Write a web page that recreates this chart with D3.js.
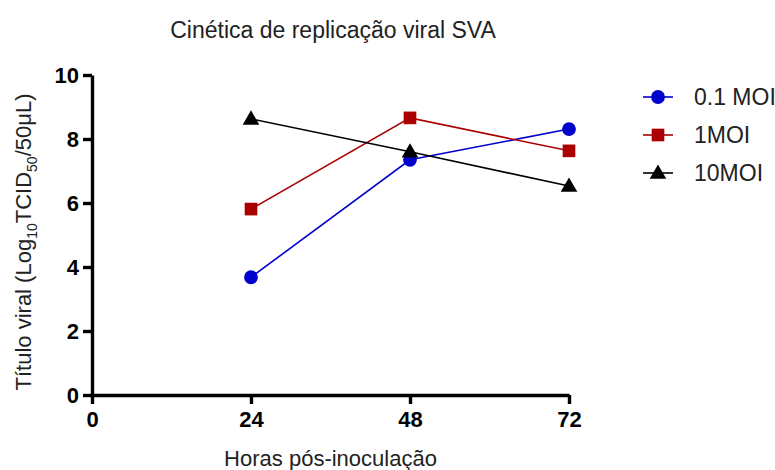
<!DOCTYPE html>
<html>
<head>
<meta charset="utf-8">
<script src="https://cdn.jsdelivr.net/npm/d3@7"></script>
<style>
  body { margin: 0; background: #fff; }
  svg text { font-family: "Liberation Sans", Arial, sans-serif; }
</style>
</head>
<body>
<div id="chart"></div>
<script>
// hours post inoculation
const hours = [24, 48, 72];
const xTicks = [0, 24, 48, 72];
const yTicks = [0, 2, 4, 6, 8, 10];

// viral titre per MOI (Log10 TCID50/50uL)
const moi01 = [3.68, 7.35, 8.31];
const moi1 = [5.81, 8.66, 7.63];
const moi10 = [8.63, 7.6, 6.53];

const seriesNames = ["0.1 MOI", "1MOI", "10MOI"];

const series = [
    {name: seriesNames[0], values: moi01, color: "#0000cc", shape: d3.symbolCircle, size: 150},
    {name: seriesNames[1], values: moi1, color: "#aa0000", shape: d3.symbolSquare, size: 160},
    {name: seriesNames[2], values: moi10, color: "#000000", shape: d3.symbolTriangle, size: 120}
];

const W = 775, H = 470;
const margin = {top: 75, right: 206, bottom: 75, left: 92};
const width = W - margin.left - margin.right;
const height = H - margin.top - margin.bottom;

const svg = d3.select("#chart").append("svg")
    .attr("width", W)
    .attr("height", H);

const g = svg.append("g")
    .attr("transform", "translate(" + margin.left + "," + margin.top + ")");

// scales
const x = d3.scaleLinear().domain([0, 72]).range([0, width]);
const y = d3.scaleLinear().domain([0, 10]).range([height, 0]);

function styleAxis(a) {
    a.select(".domain").attr("stroke", "#000").attr("stroke-width", 3.4);
    a.selectAll(".tick line").attr("stroke", "#000").attr("stroke-width", 3.4);
    a.selectAll(".tick text")
        .attr("fill", "#000")
        .attr("font-size", 22)
        .attr("font-weight", "bold")
        .attr("font-family", "Liberation Sans, Arial, sans-serif");
}

// axes
g.append("g")
    .attr("transform", "translate(0," + height + ")")
    .call(d3.axisBottom(x).tickValues(xTicks).tickSize(9).tickSizeOuter(0).tickPadding(7))
    .call(styleAxis);

g.append("g")
    .call(d3.axisLeft(y).tickValues(yTicks).tickSize(9).tickSizeOuter(0).tickPadding(4))
    .call(styleAxis)
    .call(a => a.selectAll("text").attr("dy", "0.36em"));

// lines
const line = d3.line()
    .x((d, i) => x(hours[i]))
    .y(d => y(d));

series.forEach(s => {
    g.append("path")
        .datum(s.values)
        .attr("fill", "none")
        .attr("stroke", s.color)
        .attr("stroke-width", 1.6)
        .attr("d", line);
});

series.forEach(s => {
    g.selectAll(null)
        .data(s.values)
        .enter().append("path")
        .attr("d", d3.symbol().type(s.shape).size(s.size))
        .attr("fill", s.color)
        .attr("transform", (d, i) => "translate(" + x(hours[i]) + "," + (y(d) + (s.shape === d3.symbolTriangle ? 1 : 0)) + ")");
});

// title
svg.append("text")
    .attr("x", 333)
    .attr("y", 38)
    .attr("text-anchor", "middle")
    .attr("font-size", 23)
    .attr("fill", "#222")
    .text("Cinética de replicação viral SVA");

// x label
svg.append("text")
    .attr("x", margin.left + width / 2)
    .attr("y", 466)
    .attr("text-anchor", "middle")
    .attr("font-size", 22)
    .attr("fill", "#222")
    .text("Horas pós-inoculação");

// y label with subscripts
const yl = svg.append("text")
    .attr("transform", "translate(31,242) rotate(-90)")
    .attr("text-anchor", "middle")
    .attr("font-size", 22)
    .attr("fill", "#222");
yl.append("tspan").text("Título viral (Log");
yl.append("tspan").attr("font-size", 14).attr("dy", 6).text("10");
yl.append("tspan").attr("dy", -6).text("TCID");
yl.append("tspan").attr("font-size", 14).attr("dy", 6).text("50");
yl.append("tspan").attr("dy", -6).text("/50μL)");

// legend
const legend = svg.append("g").attr("transform", "translate(643,97)");
series.forEach((s, i) => {
    const row = legend.append("g").attr("transform", "translate(0," + i * 38 + ")");
    row.append("line")
        .attr("x1", 0).attr("x2", 30)
        .attr("stroke", s.color).attr("stroke-width", 1.6);
    row.append("path")
        .attr("d", d3.symbol().type(s.shape).size(s.size))
        .attr("transform", "translate(15," + (s.shape === d3.symbolTriangle ? 1 : 0) + ")")
        .attr("fill", s.color);
    row.append("text")
        .attr("x", 51)
        .attr("dy", "0.36em")
        .attr("font-size", 23)
        .attr("fill", "#222")
        .text(s.name);
});
</script>
</body>
</html>
